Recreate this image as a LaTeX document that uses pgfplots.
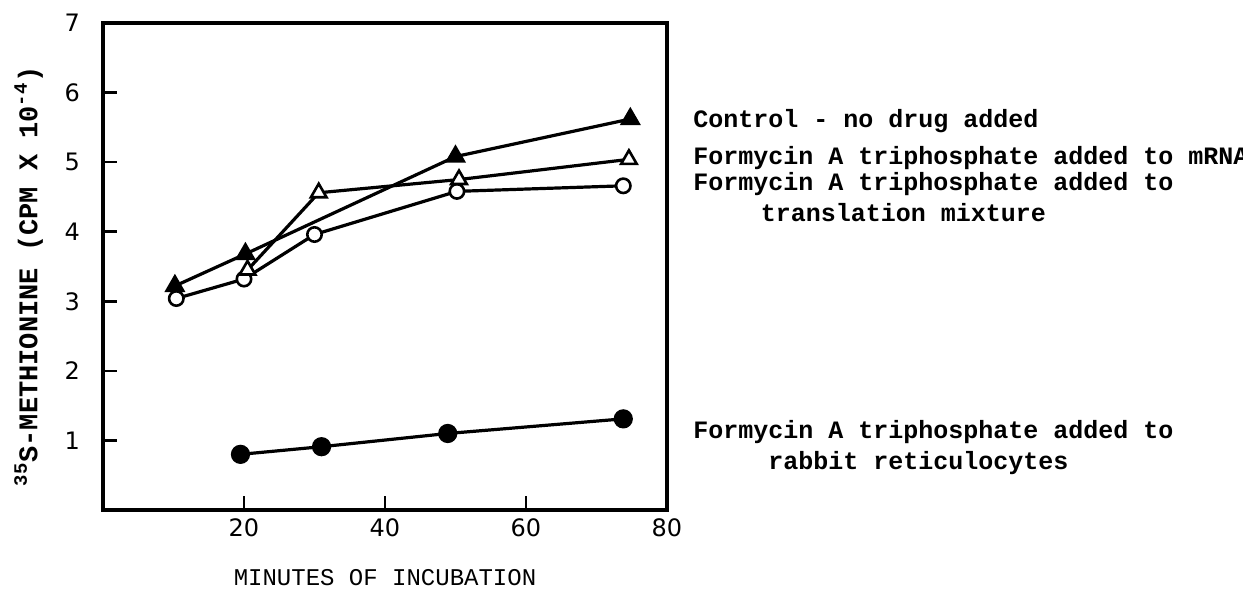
\documentclass[border=0pt]{standalone}
\usepackage{fontspec}
\setmainfont{Liberation Mono}
\newfontfamily\tickfont{DejaVu Sans}
\usepackage{pgfplots}
\pgfplotsset{compat=1.18}
\begin{document}
\begin{tikzpicture}
\path[use as bounding box] (-51.5pt,-43pt) rectangle (570pt,255pt);
\begin{axis}[
  width=282pt, height=243.5pt, scale only axis,
  xmin=0, xmax=80, ymin=0, ymax=7,
  xtick={20,40,60,80}, ytick={1,2,3,4,5,6,7},
  xtick pos=bottom, ytick pos=left,
  tick align=inside, major tick length=7pt,
  every tick/.style={black, line width=1.3pt},
  axis line style={line width=1.6pt},
  /pgf/number format/assume math mode=true,
  tick label style={font=\tickfont\fontsize{12}{12}\selectfont},
  yticklabel style={xshift=-8pt},
  xticklabel style={yshift=-1pt},
  xlabel={MINUTES OF INCUBATION},
  ylabel={\textsuperscript{35}S-METHIONINE (CPM X 10\textsuperscript{-4})},
  xlabel style={font=\fontsize{12}{12}\selectfont, at={(axis description cs:0.5,0)}, anchor=center, yshift=-34pt},
  ylabel style={font=\bfseries\fontsize{13.5}{13.5}\selectfont, at={(axis description cs:-0.132,0.48)}, anchor=center},
  clip=false,
]
\addplot[black, line width=1.6pt, mark=*, mark size=4pt, mark options={fill=black}]
  coordinates {(19.5,0.80) (31.0,0.91) (48.9,1.10) (73.8,1.31)};
\addplot[black, line width=1.6pt, mark=*, mark size=3.6pt, mark options={fill=white, line width=1.3pt}]
  coordinates {(10.4,3.04) (20.0,3.32) (30.0,3.96) (50.2,4.58) (73.8,4.66)};
\addplot[black, line width=1.6pt, mark=triangle*, mark size=4.5pt, mark options={fill=white, line width=1.3pt}]
  coordinates {(20.5,3.45) (30.6,4.56) (50.5,4.75) (74.6,5.04)};
\addplot[black, line width=1.6pt, mark=triangle*, mark size=4.5pt, mark options={fill=black}]
  coordinates {(10.2,3.22) (20.2,3.68) (50.0,5.08) (74.8,5.62)};
\end{axis}
\begin{scope}[every node/.style={anchor=west, inner sep=0pt, font=\bfseries\fontsize{12.5}{12.5}\selectfont}]
\node at (295pt,194.5pt) {Control - no drug added};
\node at (295pt,176pt) {Formycin A triphosphate added to mRNA};
\node at (295pt,163pt) {Formycin A triphosphate added to};
\node at (295pt,148.5pt) {\hspace{4.5\fontcharwd\font`x}translation mixture};
\node at (295pt,39pt) {Formycin A triphosphate added to};
\node at (295pt,23.5pt) {\hspace{5\fontcharwd\font`x}rabbit reticulocytes};
\end{scope}
\end{tikzpicture}
\end{document}
